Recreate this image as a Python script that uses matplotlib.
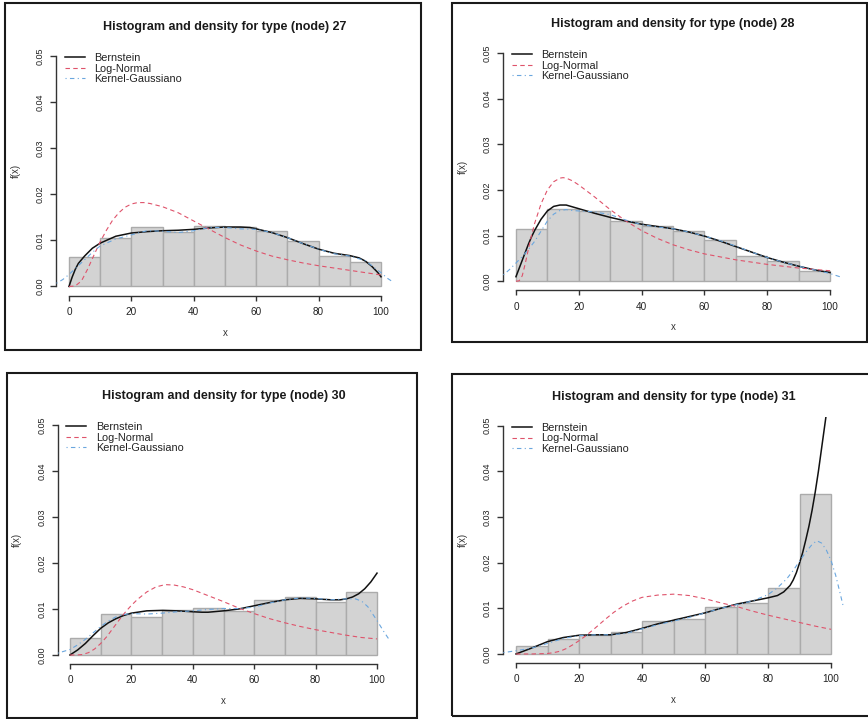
import matplotlib
matplotlib.use("Agg")
import matplotlib.pyplot as plt
from matplotlib.patches import Rectangle
import numpy as np

plt.rcParams['font.family'] = ['Liberation Sans', 'DejaVu Sans']

# ---------------- data ----------------
bin_edges = [0, 10, 20, 30, 40, 50, 60, 70, 80, 90, 100]
x_ticks = [0, 20, 40, 60, 80, 100]
y_ticks = [0.00, 0.01, 0.02, 0.03, 0.04, 0.05]
legend_labels = ["Bernstein", "Log-Normal", "Kernel-Gaussiano"]
titles = ["Histogram and density for type (node) 27",
          "Histogram and density for type (node) 28",
          "Histogram and density for type (node) 30",
          "Histogram and density for type (node) 31"]

# node 27
hist27 = [0.0064, 0.0106, 0.0128, 0.0119, 0.0132, 0.0130, 0.0121, 0.0098, 0.0066, 0.0053]
bern27_x = [0, 1, 2, 3, 5, 7.5, 10, 15, 20, 25, 30, 35, 40, 45, 50, 55, 58, 60, 65, 70, 75, 80, 85, 90, 93, 95, 97, 99, 100]
bern27_y = [0, 0.0020, 0.0037, 0.0050, 0.0066, 0.0083, 0.0094, 0.0109, 0.0116, 0.0119, 0.0121, 0.0122, 0.0124,
            0.0127, 0.0129, 0.0129, 0.0128, 0.0125, 0.0117, 0.0106, 0.0093, 0.0081, 0.0072, 0.0067, 0.0062,
            0.0055, 0.0044, 0.0030, 0.0021]
logn27_x = [0, 2, 4, 6, 8, 10, 12, 14, 16, 18, 20, 22, 24, 26, 30, 35, 40, 45, 50, 55, 60, 65, 70, 75, 80, 85, 90, 95, 100]
logn27_y = [0, 0.0001, 0.0012, 0.0038, 0.0068, 0.0097, 0.0122, 0.0144, 0.0160, 0.0172, 0.0179, 0.0182, 0.0182,
            0.0180, 0.0173, 0.0160, 0.0142, 0.0124, 0.0106, 0.0090, 0.0077, 0.0066, 0.0058, 0.0051, 0.0045,
            0.0040, 0.0035, 0.0030, 0.0025]
kern27_x = [-4, -2, 0, 2.5, 5, 7.5, 10, 15, 20, 25, 30, 35, 40, 45, 50, 55, 60, 65, 70, 75, 80, 85, 90, 95, 98, 100, 102, 104]
kern27_y = [0.0007, 0.0015, 0.0026, 0.0042, 0.0058, 0.0074, 0.0088, 0.0103, 0.0112, 0.0121, 0.0120, 0.0117,
            0.0121, 0.0128, 0.0128, 0.0125, 0.0124, 0.0117, 0.0106, 0.0093, 0.0081, 0.0071, 0.0066, 0.0056,
            0.0040, 0.0030, 0.0018, 0.0009]

# node 28
hist28 = [0.0114, 0.0158, 0.0154, 0.0131, 0.0120, 0.0110, 0.0090, 0.0056, 0.0044, 0.0023]
bern28_x = [0, 1, 2, 3, 4, 5, 6, 8, 10, 12, 14, 16, 18, 20, 25, 30, 35, 40, 45, 50, 55, 60, 65, 70, 75, 80, 85, 90, 95, 100]
bern28_y = [0.0010, 0.0028, 0.0046, 0.0064, 0.0082, 0.0098, 0.0112, 0.0136, 0.0154, 0.0164, 0.0167, 0.0167,
            0.0163, 0.0159, 0.0149, 0.0140, 0.0132, 0.0125, 0.0120, 0.0115, 0.0108, 0.0099, 0.0088, 0.0076,
            0.0064, 0.0052, 0.0042, 0.0033, 0.0025, 0.0019]
logn28_x = [0, 1, 2, 3, 4, 5, 6, 8, 10, 12, 14, 15, 16, 18, 20, 25, 30, 35, 40, 45, 50, 55, 60, 70, 80, 90, 100]
logn28_y = [0, 0.0001, 0.0012, 0.0040, 0.0072, 0.0102, 0.0128, 0.0170, 0.0200, 0.0218, 0.0226, 0.0227, 0.0226,
            0.0220, 0.0211, 0.0185, 0.0157, 0.0132, 0.0111, 0.0094, 0.0080, 0.0069, 0.0060, 0.0047, 0.0037,
            0.0029, 0.0023]
kern28_x = [-4, -2, 0, 2, 4, 6, 8, 10, 12, 14, 16, 18, 20, 25, 30, 35, 40, 45, 50, 55, 60, 65, 70, 75, 80, 85, 90, 95, 100, 104]
kern28_y = [0.0014, 0.0026, 0.0040, 0.0054, 0.0070, 0.0088, 0.0110, 0.0132, 0.0147, 0.0155, 0.0157, 0.0155,
            0.0154, 0.0152, 0.0146, 0.0134, 0.0124, 0.0119, 0.0115, 0.0108, 0.0099, 0.0089, 0.0077, 0.0064,
            0.0052, 0.0042, 0.0033, 0.0025, 0.0017, 0.0008]

# node 30
hist30 = [0.0036, 0.0089, 0.0083, 0.0098, 0.0103, 0.0095, 0.0119, 0.0126, 0.0116, 0.0136]
bern30_x = [0, 2.5, 5, 7.5, 10, 12.5, 15, 17.5, 20, 25, 30, 35, 40, 43, 45, 50, 55, 60, 65, 70, 75, 80, 85, 88, 90, 92, 94, 96, 98, 100]
bern30_y = [0, 0.0011, 0.0025, 0.0042, 0.0058, 0.0070, 0.0079, 0.0086, 0.0091, 0.0096, 0.0097, 0.0096, 0.0094,
            0.0093, 0.0093, 0.0096, 0.0100, 0.0107, 0.0114, 0.0120, 0.0123, 0.0122, 0.0120, 0.0120, 0.0122,
            0.0126, 0.0133, 0.0144, 0.0159, 0.0178]
logn30_x = [0, 2, 4, 6, 8, 10, 12, 14, 16, 18, 20, 22, 25, 28, 31, 34, 37, 40, 45, 50, 55, 60, 65, 70, 75, 80, 85, 90, 95, 100]
logn30_y = [0, 0, 0.0001, 0.0005, 0.0013, 0.0025, 0.0040, 0.0058, 0.0076, 0.0093, 0.0108, 0.0121, 0.0137,
            0.0148, 0.0153, 0.0152, 0.0148, 0.0142, 0.0129, 0.0116, 0.0102, 0.0090, 0.0079, 0.0070, 0.0062,
            0.0055, 0.0049, 0.0043, 0.0038, 0.0035]
kern30_x = [-4, -2, 0, 2.5, 5, 7.5, 10, 12.5, 15, 17.5, 20, 25, 30, 35, 40, 45, 50, 55, 60, 65, 70, 75, 80, 85, 90, 93, 95, 97, 100, 102, 104]
kern30_y = [0.0004, 0.0008, 0.0012, 0.0022, 0.0034, 0.0048, 0.0062, 0.0074, 0.0083, 0.0088, 0.0090, 0.0089,
            0.0091, 0.0094, 0.0096, 0.0099, 0.0101, 0.0101, 0.0104, 0.0113, 0.0120, 0.0124, 0.0123, 0.0120,
            0.0122, 0.0122, 0.0117, 0.0105, 0.0075, 0.0053, 0.0033]

# node 31
hist31 = [0.0018, 0.0033, 0.0042, 0.0049, 0.0073, 0.0077, 0.0102, 0.0112, 0.0144, 0.0350]
bern31_x = [0, 5, 10, 15, 20, 25, 30, 35, 40, 45, 50, 55, 60, 65, 70, 75, 80, 83, 85, 87, 88, 89, 90, 91, 92,
            93, 94, 95, 96, 97, 98, 99]
bern31_y = [0, 0.0013, 0.0027, 0.0036, 0.0041, 0.0042, 0.0042, 0.0047, 0.0056, 0.0066, 0.0074, 0.0082, 0.0090,
            0.0100, 0.0109, 0.0116, 0.0123, 0.0128, 0.0136, 0.0150, 0.0162, 0.0178, 0.0199, 0.0222, 0.0250,
            0.0280, 0.0315, 0.0355, 0.0400, 0.0450, 0.0500, 0.0550]
logn31_x = [0, 5, 10, 12, 14, 16, 18, 20, 22, 25, 28, 31, 34, 37, 40, 45, 50, 55, 60, 65, 70, 75, 80, 85, 90, 95, 100]
logn31_y = [0, 0, 0.0001, 0.0003, 0.0006, 0.0012, 0.0020, 0.0029, 0.0039, 0.0056, 0.0074, 0.0091, 0.0105,
            0.0116, 0.0124, 0.0129, 0.0131, 0.0128, 0.0121, 0.0112, 0.0104, 0.0094, 0.0085, 0.0077, 0.0069,
            0.0061, 0.0054]
kern31_x = [-4, -2, 0, 5, 10, 15, 20, 25, 30, 35, 40, 45, 50, 55, 60, 65, 70, 75, 80, 83, 86, 88, 90, 92, 94,
            95.5, 97, 98.5, 100, 101.5, 103, 104]
kern31_y = [0.0003, 0.0005, 0.0007, 0.0013, 0.0023, 0.0034, 0.0040, 0.0042, 0.0042, 0.0045, 0.0055, 0.0064,
            0.0072, 0.0080, 0.0090, 0.0100, 0.0108, 0.0116, 0.0130, 0.0145, 0.0165, 0.0183, 0.0203, 0.0223,
            0.0240, 0.0248, 0.0243, 0.0228, 0.0205, 0.0172, 0.0130, 0.0101]

panels = [
    (hist27, bern27_x, bern27_y, logn27_x, logn27_y, kern27_x, kern27_y),
    (hist28, bern28_x, bern28_y, logn28_x, logn28_y, kern28_x, kern28_y),
    (hist30, bern30_x, bern30_y, logn30_x, logn30_y, kern30_x, kern30_y),
    (hist31, bern31_x, bern31_y, logn31_x, logn31_y, kern31_x, kern31_y),
]

# ---------------- layout (pixels) ----------------
W, H = 868, 719
# plot regions: left, right, top, bottom  (x from -4 to 104, y from -0.002 to 0.052)
axes_px = [(56.5, 393.5, 46.8, 295.7),
           (503.4, 842.6, 43.9, 290.4),
           (57.7, 389.3, 415.8, 664.2),
           (503.4, 843.6, 416.6, 663.1)]
# border boxes: left, right, top, bottom
boxes_px = [(4.5, 420.5, 3, 349.5),
            (451.5, 866.5, 3, 342.5),
            (7, 416.5, 373, 718),
            (451.7, 875, 374, 716)]

fig = plt.figure(figsize=(W / 100, H / 100), dpi=100)
fig.patch.set_facecolor('white')

for (l, r, t, b) in boxes_px:
    fig.add_artist(Rectangle((l / W, 1 - b / H), (r - l) / W, (b - t) / H,
                             transform=fig.transFigure, fill=False,
                             edgecolor='#1a1a1a', linewidth=1.5))

axis_col = '#333333'
red = '#DF536B'
blue = '#6AA6DE'

for i, (pos, data, title) in enumerate(zip(axes_px, panels, titles)):
    l, r, t, b = pos
    ax = fig.add_axes([l / W, 1 - b / H, (r - l) / W, (b - t) / H])
    hist, bx, by, lx, ly, kx, ky = data
    ax.bar(bin_edges[:-1], hist, width=10, align='edge', color='#D3D3D3',
           edgecolor='#ABABAB', linewidth=1.0, zorder=1)
    h1, = ax.plot(bx, by, color='#111111', lw=1.1, zorder=3)
    h2, = ax.plot(lx, ly, color=red, lw=0.8, dashes=(4, 3), zorder=3)
    h3, = ax.plot(kx, ky, color=blue, lw=0.8, dashes=(1, 3, 4, 3), zorder=3)

    ax.set_xlim(-4, 104)
    ax.set_ylim(-0.002, 0.052)
    for s in ['top', 'right']:
        ax.spines[s].set_visible(False)
    ax.spines['left'].set_bounds(0, 0.05)
    ax.spines['bottom'].set_bounds(0, 100)
    for s in ['left', 'bottom']:
        ax.spines[s].set_color(axis_col)
        ax.spines[s].set_linewidth(1.0)
    ax.set_xticks(x_ticks)
    ax.set_xticklabels([str(v) for v in x_ticks])
    ax.set_yticks(y_ticks)
    ax.set_yticklabels(['%.2f' % v for v in y_ticks], rotation=90, va='center')
    ax.tick_params(axis='x', length=3.6, width=1.0, color=axis_col, labelsize=7.2,
                   labelcolor='#222222', pad=4.5)
    ax.tick_params(axis='y', length=4.4, width=1.0, color=axis_col, labelsize=6.5,
                   labelcolor='#222222', pad=3.9)
    ax.patch.set_alpha(0)

    ax.annotate(title, xy=(0.5, 1), xycoords='axes fraction', xytext=(0, 14.4),
                textcoords='offset points', ha='center', va='center',
                fontsize=9, fontweight='bold', color='#1a1a1a')
    ax.annotate('x', xy=(0.5, 0), xycoords='axes fraction', xytext=(0, -26.6),
                textcoords='offset points', ha='center', va='center',
                fontsize=7, color='#333333')
    ax.annotate('f(x)', xy=(0, 0.5), xycoords='axes fraction', xytext=(-29.5, 0),
                textcoords='offset points', ha='center', va='center',
                fontsize=7, color='#333333', rotation=90)

    ax.legend([h1, h2, h3], legend_labels, loc='upper left',
              bbox_to_anchor=(-1.2, 0.0506), bbox_transform=ax.transData,
              frameon=False, fontsize=7.8, handlelength=1.85, handletextpad=0.86,
              labelspacing=0.03, borderpad=0, borderaxespad=0, labelcolor='#222222')

fig.savefig('out.png', dpi=100, facecolor='white')
